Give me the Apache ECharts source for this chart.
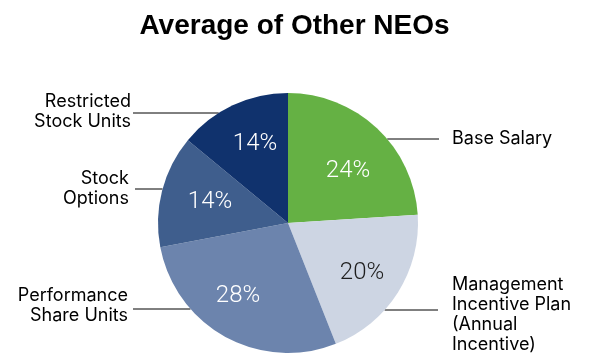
<!DOCTYPE html>
<html>
<head>
<meta charset="utf-8">
<script src="https://cdn.jsdelivr.net/npm/echarts@6/dist/echarts.min.js"></script>
<style>
html,body{margin:0;padding:0;background:#fff;}
#c{width:589px;height:355px;}
</style>
</head>
<body>
<div id="c"></div>
<script>
var title = 'Average of Other NEOs';
var categories = ['Base Salary', 'Management\nIncentive Plan\n(Annual\nIncentive)', 'Performance\nShare Units', 'Stock\nOptions', 'Restricted\nStock Units'];
var values = [24, 20, 28, 14, 14];

// styling / layout
var colors = ['#65b144', '#cdd5e3', '#6c84ad', '#3f5e8d', '#10326d'];
var pctColors = ['#ffffff', '#1e1e1e', '#ffffff', '#ffffff', '#ffffff'];
var CX = 288, CY = 223, R = 130;
// outside label placement: [anchorX, centerY, align, lineY, lineOuterX]
var nameLayout = [
  [452, 139, 'left', 139, 439],
  [452, 315, 'left', 310, 438],
  [128, 306, 'right', 309, 133],
  [129, 189, 'right', 189, 135],
  [131, 111.5, 'right', 113, 133]
];
// inside percentage label centers
var pctLayout = [[348, 171], [362, 273], [238, 296], [210, 202], [255, 144]];

var chart = echarts.init(document.getElementById('c'), null, {renderer: 'canvas'});
var dataMain = values.map(function (v, i) {
  return {name: categories[i], value: v, itemStyle: {color: colors[i]}, label: {color: pctColors[i]}};
});
var dataNames = values.map(function (v, i) {
  return {name: categories[i], value: v};
});

chart.setOption({
  backgroundColor: '#ffffff',
  animation: false,
  title: {
    text: title,
    left: 'center',
    top: 7,
    textStyle: {fontFamily: 'Liberation Sans, Arial, sans-serif', fontWeight: 'bold', fontSize: 28, color: '#000'}
  },
  series: [
    {
      type: 'pie',
      center: [CX, CY],
      radius: [0, R],
      startAngle: 90,
      clockwise: true,
      silent: true,
      avoidLabelOverlap: false,
      itemStyle: {borderWidth: 0},
      label: {
        show: true,
        position: 'inside',
        formatter: '{c}%',
        fontFamily: 'Roboto, sans-serif',
        fontWeight: 300,
        fontSize: 24
      },
      labelLine: {show: false},
      labelLayout: function (p) {
        var pl = pctLayout[p.dataIndex];
        return {x: pl[0], y: pl[1], align: 'center', verticalAlign: 'middle'};
      },
      data: dataMain
    },
    {
      type: 'pie',
      center: [CX, CY],
      radius: [0, R],
      startAngle: 90,
      clockwise: true,
      silent: true,
      avoidLabelOverlap: false,
      itemStyle: {color: 'rgba(0,0,0,0)', borderWidth: 0},
      label: {
        show: true,
        position: 'outside',
        formatter: '{b}',
        fontFamily: 'Inter, sans-serif',
        fontSize: 18,
        lineHeight: 20,
        color: '#000'
      },
      labelLine: {show: true, length: 10, length2: 10, lineStyle: {color: '#000', width: 1}},
      labelLayout: function (p) {
        var nl = nameLayout[p.dataIndex];
        var ly = nl[3];
        var dx = Math.sqrt(R * R - (ly - CY) * (ly - CY));
        var ex = nl[2] === 'left' ? CX + dx : CX - dx;
        return {
          x: nl[0], y: nl[1], align: nl[2], verticalAlign: 'middle',
          labelLinePoints: [[ex, ly], [nl[4], ly], [nl[4], ly]]
        };
      },
      data: dataNames
    }
  ]
});
</script>
</body>
</html>
